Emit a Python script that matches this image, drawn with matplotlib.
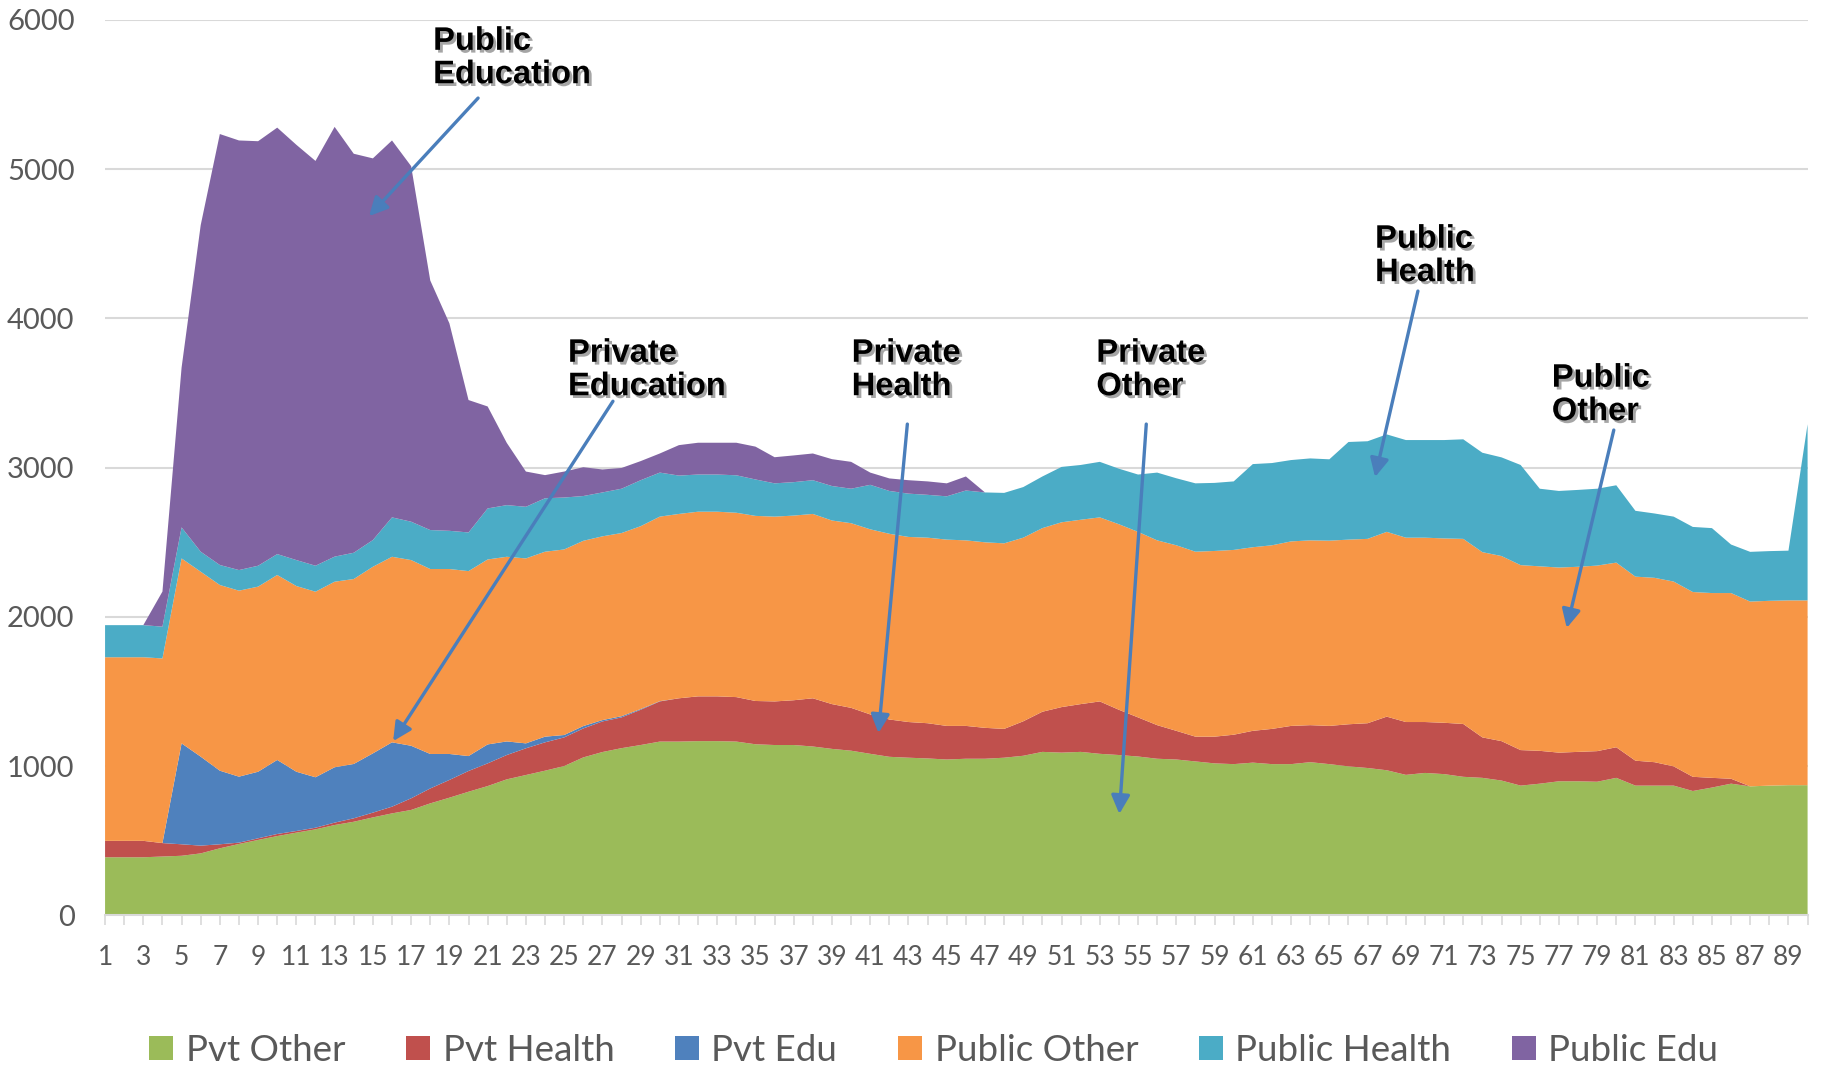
import numpy as np
import matplotlib
matplotlib.use('Agg')
import matplotlib.pyplot as plt
import matplotlib.patheffects as pe
from matplotlib.patches import Patch

# categories 1..90
periods = list(range(1, 91))

pvt_other = [390, 390, 390, 395, 400, 416, 450, 479, 506, 532,
             555, 577, 606, 628, 657, 684, 707, 751, 789, 829,
             867, 912, 941, 970, 1001, 1059, 1095, 1121, 1142, 1165,
             1165, 1168, 1168, 1165, 1147, 1142, 1142, 1132, 1116, 1104,
             1083, 1063, 1057, 1052, 1045, 1050, 1050, 1057, 1070, 1096,
             1091, 1096, 1083, 1075, 1065, 1050, 1045, 1032, 1019, 1014,
             1024, 1014, 1014, 1027, 1014, 999, 988, 973, 942, 955,
             947, 929, 922, 904, 870, 883, 899, 899, 896, 922,
             870, 870, 870, 834, 857, 883, 865, 870, 873, 873]
pvt_health = [110, 110, 110, 90, 77, 52, 27, 9, 11, 14,
              11, 11, 16, 23, 32, 45, 78, 100, 119, 139,
              152, 163, 179, 190, 192, 194, 205, 206, 236, 269,
              290, 300, 300, 298, 290, 292, 300, 323, 300, 287,
              264, 250, 239, 236, 225, 220, 207, 193, 231, 269,
              305, 320, 351, 303, 262, 225, 192, 166, 179, 197,
              213, 236, 256, 248, 256, 282, 300, 359, 354, 341,
              344, 354, 271, 264, 238, 220, 192, 197, 205, 205,
              167, 157, 129, 95, 65, 33, 0, 0, 0, 0]
pvt_edu = [0, 0, 0, 0, 676, 596, 493, 442, 446, 496,
           397, 338, 371, 364, 397, 431, 352, 231, 174, 100,
           127, 91, 33, 38, 16, 16, 9, 8, 5, 2] + [0] * 60
public_other = [1230, 1230, 1230, 1237, 1239, 1239, 1244, 1246, 1240, 1239,
                1244, 1243, 1243, 1239, 1250, 1243, 1244, 1239, 1239, 1239,
                1239, 1237, 1239, 1239, 1243, 1241, 1231, 1227, 1225, 1236,
                1235, 1237, 1237, 1235, 1240, 1238, 1237, 1235, 1230, 1237,
                1240, 1244, 1240, 1243, 1248, 1243, 1243, 1243, 1230, 1230,
                1238, 1235, 1233, 1243, 1243, 1238, 1243, 1239, 1244, 1238,
                1230, 1230, 1236, 1238, 1241, 1237, 1235, 1238, 1235, 1235,
                1235, 1240, 1241, 1240, 1239, 1236, 1240, 1240, 1243, 1237,
                1233, 1235, 1238, 1238, 1238, 1244, 1238, 1238, 1238, 1238]
public_health = [215, 215, 215, 213, 208, 134, 134, 138, 140, 140,
                 174, 174, 168, 176, 179, 264, 257, 261, 256, 259,
                 342, 346, 346, 358, 348, 300, 294, 297, 308, 295,
                 257, 249, 249, 251, 244, 223, 224, 226, 231, 231,
                 298, 287, 290, 287, 290, 334, 334, 338, 339, 346,
                 371, 367, 372, 372, 384, 454, 449, 458, 456, 459,
                 557, 551, 545, 549, 545, 654, 654, 653, 654, 654,
                 659, 667, 666, 661, 671, 520, 513, 515, 515, 518,
                 441, 431, 435, 436, 435, 325, 333, 333, 333, 1180]
public_edu = [0, 0, 0, 235, 1070, 2188, 2887, 2878, 2844, 2857,
              2782, 2712, 2879, 2673, 2557, 2525, 2382, 1672, 1390, 887,
              683, 417, 236, 155, 174, 193, 154, 139, 128, 128,
              204, 213, 213, 218, 220, 175, 179, 179, 180, 180,
              82, 84, 90, 90, 87, 94] + [0] * 44

series_names = ['Pvt Other', 'Pvt Health', 'Pvt Edu', 'Public Other', 'Public Health', 'Public Edu']
colors = ['#9BBB59', '#C0504D', '#4F81BD', '#F79646', '#4BACC6', '#8064A2']

# (label, text pos, arrow start, arrow head) in data units
notes = [
    ('Public\nEducation', (18.15, 5960), (20.5, 5476), (14.8, 4685)),
    ('Private\nEducation', (25.2, 3870), (27.55, 3445), (16.06, 1168)),
    ('Private\nHealth', (40.03, 3870), (42.94, 3292), (41.43, 1222)),
    ('Private\nOther', (52.82, 3870), (55.43, 3292), (54.02, 680)),
    ('Public\nHealth', (67.39, 4634), (69.63, 4183), (67.39, 2937)),
    ('Public\nOther', (76.63, 3703), (79.87, 3252), (77.41, 1926)),
]

plt.rcParams['font.family'] = ['Lato', 'DejaVu Sans']

fig = plt.figure(figsize=(18.24, 10.73), dpi=100)
ax = fig.add_axes([0.0576, 0.1468, 0.9334, 0.8347])

ax.stackplot(periods, pvt_other, pvt_health, pvt_edu, public_other, public_health, public_edu,
             colors=colors, linewidth=0, zorder=2)

ax.set_xlim(1, 90)
ax.set_ylim(0, 6000)
ax.set_yticks(range(0, 6001, 1000))
ax.yaxis.grid(True, color='#D9D9D9', linewidth=1.5, zorder=0)
ax.set_axisbelow(True)
ax.tick_params(axis='y', length=0, pad=22, labelsize=21, labelcolor='#595959')

ax.set_xticks(periods)
ax.set_xticklabels([str(p) if p % 2 == 1 else '' for p in periods])
ax.tick_params(axis='x', direction='out', length=7, width=1.2, color='#D9D9D9',
               pad=14, labelsize=19, labelcolor='#595959')

for s in ['top', 'right', 'left']:
    ax.spines[s].set_visible(False)
ax.spines['bottom'].set_color('#D9D9D9')
ax.spines['bottom'].set_linewidth(1.5)
ax.spines['bottom'].set_zorder(3)

shadow = [pe.withSimplePatchShadow(offset=(2, -2), shadow_rgbFace='#7f7f7f', alpha=0.7)]
for label, tpos, start, head in notes:
    ax.text(tpos[0], tpos[1], label, ha='left', va='top', fontsize=23.5,
            fontweight='bold', family='Liberation Sans', color='black',
            linespacing=1.1, path_effects=shadow, zorder=5)
    ax.annotate('', xy=head, xytext=start,
                arrowprops=dict(arrowstyle='-|>', color='#4A7EBB', lw=2.4,
                                mutation_scale=28, shrinkA=0, shrinkB=0),
                zorder=5)

handles = [Patch(facecolor=c, edgecolor='none', label=n) for c, n in zip(colors, series_names)]
fig.legend(handles=handles, loc='center', bbox_to_anchor=(0.512, 0.021), ncol=6,
           frameon=False, fontsize=26.5, handlelength=0.65, handleheight=0.65,
           handletextpad=0.34, columnspacing=1.65, labelcolor='#595959')

fig.savefig('out.png', dpi=100)
